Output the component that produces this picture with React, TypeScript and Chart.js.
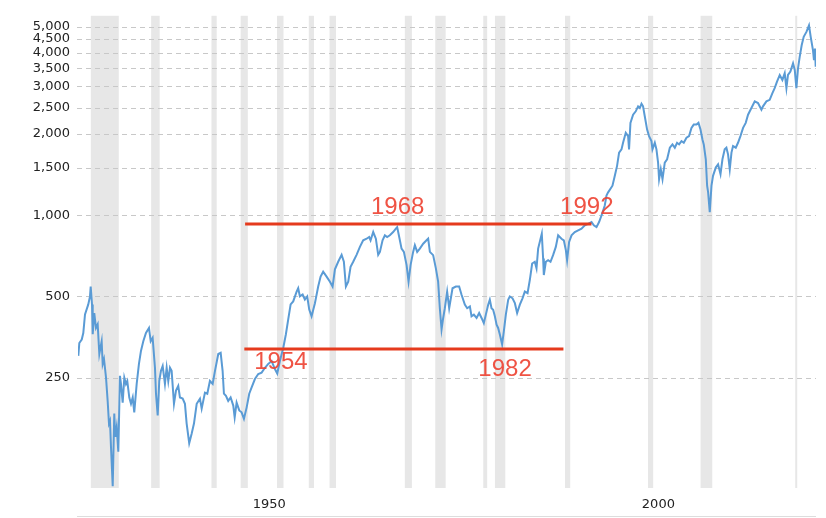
import { useEffect, useRef } from 'react';
import { Chart, registerables } from 'chart.js';

Chart.register(...registerables);

// inflation adjusted index (decimal year -> level)
const YEARS = [
  1927.97, 1928.1, 1928.41, 1928.61, 1928.83, 1929.25, 1929.47, 1929.56, 1929.73, 1929.82,
  1930.02, 1930.24, 1930.46, 1930.67, 1930.97, 1931.1, 1931.27, 1931.53, 1931.74, 1931.91,
  1932.04, 1932.17, 1932.39, 1932.59, 1932.72, 1932.9, 1933.11, 1933.32, 1933.45, 1933.67,
  1933.88, 1934.09, 1934.26, 1934.52, 1934.74, 1934.96, 1935.16, 1935.47, 1935.76, 1936.02,
  1936.32, 1936.66, 1937.05, 1937.27, 1937.52, 1937.82, 1937.95, 1938.17, 1938.37, 1938.59,
  1938.81, 1939.1, 1939.32, 1939.53, 1939.75, 1939.96, 1940.26, 1940.52, 1940.81, 1941.03,
  1941.38, 1941.67, 1941.89, 1942.22, 1942.53, 1942.83, 1943.18, 1943.6, 1943.82, 1944.24,
  1944.54, 1944.88, 1945.23, 1945.53, 1945.95, 1946.26, 1946.51, 1946.68, 1946.94, 1947.23,
  1947.54, 1947.88, 1948.06, 1948.31, 1948.65, 1948.95, 1949.25, 1949.6, 1949.93, 1950.24,
  1950.66, 1951.09, 1951.52, 1951.95, 1952.37, 1952.81, 1953.23, 1953.53, 1953.87, 1954.3,
  1954.64, 1954.94, 1955.25, 1955.58, 1956.02, 1956.22, 1956.44, 1956.79, 1957.08, 1957.38,
  1957.64, 1957.94, 1958.37, 1958.79, 1959.1, 1959.43, 1959.87, 1960.3, 1960.64, 1960.94,
  1961.36, 1961.8, 1962.09, 1962.35, 1962.65, 1962.95, 1963.29, 1963.72, 1964.15, 1964.57,
  1965.01, 1965.34, 1965.52, 1965.86, 1966.2, 1966.5, 1966.72, 1967.06, 1967.36, 1967.65,
  1968.0, 1968.42, 1968.77, 1968.94, 1969.2, 1969.5, 1969.8, 1970.15, 1970.4, 1970.66,
  1970.99, 1971.21, 1971.51, 1971.85, 1972.28, 1972.71, 1972.92, 1973.14, 1973.56, 1973.91,
  1974.2, 1974.42, 1974.64, 1974.85, 1975.06, 1975.36, 1975.62, 1976.05, 1976.48, 1976.9,
  1977.21, 1977.63, 1977.93, 1978.28, 1978.49, 1978.79, 1979.14, 1979.47, 1979.78, 1980.07,
  1980.33, 1980.63, 1980.84, 1981.06, 1981.27, 1981.49, 1981.71, 1981.91, 1982.13, 1982.42,
  1982.64, 1982.9, 1983.2, 1983.41, 1983.76, 1984.06, 1984.35, 1984.7, 1985.04, 1985.34,
  1985.69, 1985.98, 1986.28, 1986.62, 1986.84, 1987.05, 1987.36, 1987.52, 1987.69, 1987.78,
  1988.04, 1988.33, 1988.64, 1988.97, 1989.32, 1989.62, 1990.05, 1990.35, 1990.61, 1990.77,
  1991.03, 1991.34, 1991.76, 1992.19, 1992.62, 1993.05, 1993.47, 1993.91, 1994.2, 1994.55,
  1994.88, 1995.19, 1995.61, 1995.83, 1996.04, 1996.6, 1996.9, 1997.19, 1997.45, 1997.76,
  1997.96, 1998.31, 1998.61, 1998.73, 1998.91, 1999.25, 1999.59, 1999.89, 2000.11, 2000.33,
  2000.53, 2000.75, 2001.05, 2001.3, 2001.61, 2001.74, 2002.04, 2002.25, 2002.46, 2002.59,
  2002.81, 2003.03, 2003.32, 2003.62, 2003.97, 2004.31, 2004.61, 2004.9, 2005.16, 2005.47,
  2005.76, 2006.11, 2006.44, 2006.75, 2007.04, 2007.39, 2007.65, 2007.91, 2008.16, 2008.33,
  2008.59, 2008.76, 2008.89, 2009.1, 2009.32, 2009.52, 2009.87, 2010.17, 2010.48, 2010.73,
  2011.02, 2011.24, 2011.45, 2011.67, 2011.89, 2012.09, 2012.44, 2012.73, 2013.04, 2013.38,
  2013.72, 2014.02, 2014.45, 2014.88, 2015.3, 2015.74, 2015.94, 2016.38, 2016.8, 2017.15,
  2017.44, 2017.74, 2018.09, 2018.43, 2018.73, 2018.95, 2019.15, 2019.46, 2019.8, 2020.02,
  2020.23, 2020.44, 2020.66, 2020.91, 2021.17, 2021.52, 2021.85, 2022.07, 2022.36, 2022.49,
  2022.62, 2022.71,
];

const LEVELS = [
  301, 336, 346, 366, 429, 467, 500, 544, 467, 362,
  434, 382, 394, 306, 341, 281, 293, 250, 205, 169,
  173, 138, 99, 184, 151, 164, 133, 254, 237, 202,
  250, 237, 243, 211, 200, 211, 186, 237, 281, 314,
  341, 366, 382, 341, 351, 272, 218, 181, 243, 265,
  276, 237, 272, 243, 272, 265, 200, 224, 233, 211,
  209, 200, 169, 143, 155, 169, 200, 209, 192, 220,
  218, 243, 237, 265, 306, 309, 265, 218, 214, 205,
  211, 197, 178, 202, 189, 186, 176, 194, 218, 230,
  247, 258, 261, 272, 281, 288, 269, 259, 288, 322,
  362, 411, 467, 479, 521, 536, 500, 508, 487, 500,
  447, 422, 472, 544, 592, 617, 592, 567, 544, 630,
  672, 713, 672, 544, 567, 644, 672, 713, 763, 807,
  818, 830, 807, 866, 818, 713, 731, 807, 842, 830,
  842, 866, 891, 903, 830, 752, 731, 653, 567, 653,
  731, 774, 731, 752, 784, 807, 818, 731, 711, 635,
  567, 452, 377, 416, 452, 521, 452, 536, 544, 544,
  507, 466, 452, 459, 422, 428, 416, 434, 416, 398,
  428, 466, 486, 452, 446, 422, 393, 382, 361, 332,
  371, 428, 486, 500, 492, 472, 434, 466, 492, 521,
  514, 575, 662, 672, 635, 752, 818, 854, 691, 600,
  672, 681, 672, 711, 763, 842, 818, 807, 742, 681,
  796, 842, 866, 879, 891, 917, 929, 943, 917, 903,
  943, 997, 1086, 1182, 1215, 1286, 1399, 1523, 1705, 1753,
  1855, 2019, 1963, 1753, 2198, 2357, 2426, 2531, 2495, 2587,
  2531, 2326, 2076, 1963, 1882, 1753, 1855, 1753, 1566, 1360,
  1480, 1360, 1566, 1611, 1778, 1829, 1778, 1855, 1829, 1882,
  1855, 1936, 1963, 2106, 2166, 2166, 2198, 2076, 1908, 1829,
  1611, 1286, 1215, 1025, 1286, 1399, 1501, 1544, 1419, 1611,
  1753, 1778, 1680, 1480, 1705, 1804, 1778, 1855, 1963, 2106,
  2198, 2357, 2495, 2640, 2603, 2459, 2531, 2640, 2676, 2833,
  2955, 3127, 3307, 3170, 3355, 2955, 3307, 3404, 3652, 3450,
  2955, 3500, 3865, 4263, 4578, 4776, 5050, 4578, 4086, 3755,
  4146, 3551,
];

// recessions (shaded)
const RECESSION_START = [
  1929.58, 1937.33, 1945.08, 1948.83, 1953.5, 1957.58, 1960.25, 1969.92,
  1973.83, 1980.0, 1981.5, 1990.5, 2001.17, 2007.92, 2020.08,
];
const RECESSION_END = [
  1933.17, 1938.42, 1945.75, 1949.75, 1954.33, 1958.25, 1961.08, 1970.83,
  1975.17, 1980.5, 1982.83, 1991.17, 2001.83, 2009.42, 2020.25,
];

// hand drawn range lines
const RANGE_FROM = [1949.4, 1949.3];
const RANGE_TO = [1993.9, 1990.3];
const RANGE_LEVEL = [927, 319];

// hand written notes
const NOTE_TEXT = ['1968', '1992', '1954', '1982'];
const NOTE_YEAR = [1969.0, 1993.3, 1954.0, 1982.8];
const NOTE_LEVEL = [1070, 1070, 286, 269];

const Y_TICKS = [250, 500, 1000, 1500, 2000, 2500, 3000, 3500, 4000, 4500, 5000];
const X_TICKS = ['1950', '2000'];

const LABEL_SHIFT = 2.5;

const decorations = {
  id: 'decorations',
  beforeDatasetsDraw(chart: any) {
    const { ctx, chartArea: a, scales } = chart;
    const x = scales.x;
    ctx.save();
    // recession bands
    ctx.fillStyle = '#e7e7e7';
    RECESSION_START.forEach((s, i) => {
      const x0 = x.getPixelForValue(s);
      const x1 = x.getPixelForValue(RECESSION_END[i]);
      ctx.fillRect(x0, a.top, Math.max(x1 - x0, 2), a.bottom - a.top);
    });
    // dashed grid, drawn as short bars
    ctx.fillStyle = '#c8c8c8';
    for (const v of Y_TICKS) {
      const y = Math.round(scales.y.getPixelForValue(v));
      for (let px = a.left - 1; px < a.right; px += 9) {
        ctx.fillRect(px, y, Math.min(5, a.right - px), 1);
      }
    }
    ctx.restore();
  },
  afterDraw(chart: any) {
    const { ctx, chartArea: a, scales, height } = chart;
    ctx.save();
    ctx.fillStyle = 'rgba(238, 68, 52, 0.92)';
    ctx.font = '24px "Liberation Sans", Arial, sans-serif';
    ctx.textAlign = 'center';
    ctx.textBaseline = 'middle';
    NOTE_TEXT.forEach((t, i) => {
      ctx.fillText(t, scales.x.getPixelForValue(NOTE_YEAR[i]), scales.y.getPixelForValue(NOTE_LEVEL[i]));
    });
    ctx.fillStyle = '#dddddd';
    ctx.fillRect(a.left - 1, height - 2, a.right - a.left + 1, 1);
    ctx.restore();
  },
};

export default function App() {
  const canvasRef = useRef<HTMLCanvasElement>(null);

  useEffect(() => {
    if (!canvasRef.current) return;
    const ctx = canvasRef.current.getContext('2d');
    if (!ctx) return;

    const rangeSets = RANGE_LEVEL.map((lvl, i) => ({
      data: [
        { x: RANGE_FROM[i], y: lvl },
        { x: RANGE_TO[i], y: lvl },
      ],
      borderColor: '#e53a1d',
      borderWidth: 3,
      pointRadius: 0,
      order: 0,
    }));

    const chart = new Chart(ctx, {
      type: 'line',
      data: {
        datasets: [
          {
            data: YEARS.map((yr, i) => ({ x: yr, y: LEVELS[i] })),
            borderColor: '#5a9bd5',
            borderWidth: 2,
            pointRadius: 0,
            tension: 0,
            order: 1,
          },
          ...rangeSets,
        ],
      },
      options: {
        animation: false,
        responsive: true,
        maintainAspectRatio: false,
        layout: { padding: { top: 12, right: 10, left: 0, bottom: 0 } },
        plugins: {
          legend: { display: false },
          tooltip: { enabled: false },
        },
        scales: {
          x: {
            type: 'linear',
            min: 1927.93,
            max: 2022.75,
            grid: { display: false, drawTicks: false },
            border: { display: false },
            afterBuildTicks: (scale: any) => {
              scale.ticks = X_TICKS.map((t) => ({ value: Number(t) + LABEL_SHIFT }));
            },
            afterFit: (scale: any) => {
              scale.height = 30;
            },
            ticks: {
              padding: 9,
              color: '#222',
              font: { family: '"DejaVu Sans", Verdana, sans-serif', size: 13 },
              callback: (v: any) => String(Math.round(Number(v) - LABEL_SHIFT)),
            },
          },
          y: {
            type: 'logarithmic',
            min: 97.5,
            max: 5480,
            grid: { display: false, drawTicks: false },
            border: { display: false },
            afterBuildTicks: (scale: any) => {
              scale.ticks = Y_TICKS.map((v) => ({ value: v }));
            },
            afterFit: (scale: any) => {
              scale.width = 78;
            },
            ticks: {
              autoSkip: false,
              padding: 8,
              color: '#222',
              font: { family: '"DejaVu Sans", Verdana, sans-serif', size: 13 },
              callback: (v: any) => Number(v).toLocaleString('en-US'),
            },
          },
        },
      },
      plugins: [decorations],
    });

    return () => chart.destroy();
  }, []);

  return (
    <div style={{ position: 'fixed', left: 0, top: 0, width: 826, height: 518, background: '#fff' }}>
      <canvas ref={canvasRef} />
    </div>
  );
}
